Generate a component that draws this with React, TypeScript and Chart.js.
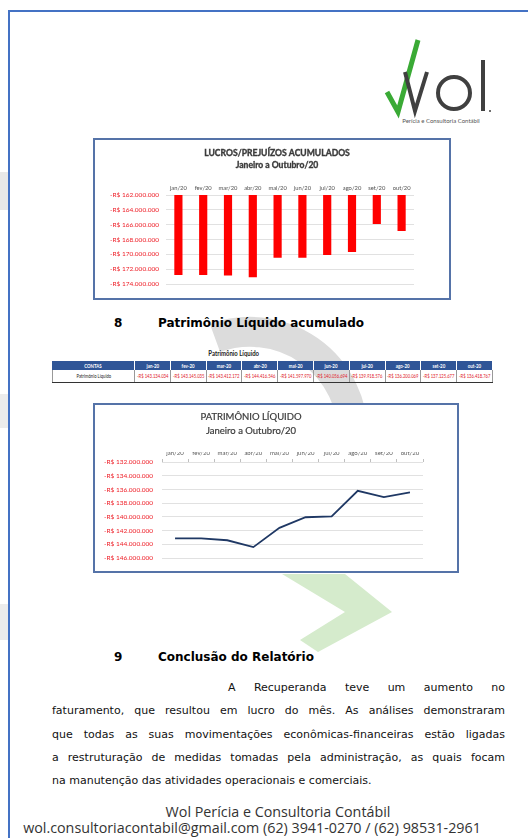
import React, { useEffect, useRef } from 'react';
import { Chart, registerables } from 'chart.js';
Chart.register(...registerables);

const months = ['jan/20', 'fev/20', 'mar/20', 'abr/20', 'mai/20', 'jun/20', 'jul/20', 'ago/20', 'set/20', 'out/20'];
const lucrosValues = [-172800000, -172800000, -172850000, -173100000, -170450000, -170450000, -170100000, -169700000, -165900000, -166850000];
const lucrosMin = -174000000;
const lucrosMax = -162000000;
const lucrosTitle = ['LUCROS/PREJUÍZOS ACUMULADOS', 'Janeiro a Outubro/20'];
const plValues = [-143134034, -143145035, -143412172, -144416546, -141597970, -140056694, -139918576, -136200069, -137125677, -136418767];
const plMin = -146000000;
const plMax = -132000000;
const plTitle = ['PATRIMÔNIO LÍQUIDO', 'Janeiro a Outubro/20'];
const tickStep = 2000000;
const tableMonths = ['jan-20', 'fev-20', 'mar-20', 'abr-20', 'mai-20', 'jun-20', 'jul-20', 'ago-20', 'set-20', 'out-20'];
const paragraphLines = [
  'A Recuperanda teve um aumento no',
  'faturamento, que resultou em lucro do mês. As análises demonstraram',
  'que todas as suas movimentações econômicas-financeiras estão ligadas',
  'a restruturação de medidas tomadas pela administração, as quais focam',
  'na manutenção das atividades operacionais e comerciais.',
];

const fmt = (v: number) =>
  '-R$ ' + String(Math.abs(Math.round(v))).replace(/\B(?=(\d{3})+(?!\d))/g, '.');

// draws a two-line chart title at a given position (Excel-style title placement)
const docTitlePlugin = {
  id: 'docTitle',
  afterDraw(chart: any, _args: any, opts: any) {
    if (!opts || !opts.lines) return;
    const ctx = chart.ctx;
    ctx.save();
    ctx.font = `${opts.weight || 'normal'} ${opts.size}px ${opts.family}`;
    ctx.fillStyle = opts.color;
    ctx.strokeStyle = opts.color;
    ctx.lineWidth = opts.stroke || 0;
    ctx.textAlign = 'center';
    ctx.textBaseline = 'middle';
    opts.lines.forEach((l: string, i: number) => {
      ctx.fillText(l, opts.x, opts.y + i * opts.lh);
      if (opts.stroke) ctx.strokeText(l, opts.x, opts.y + i * opts.lh);
    });
    ctx.restore();
  },
};

function ChartCanvas({ config, width, height }: { config: any; width: number; height: number }) {
  const ref = useRef<HTMLCanvasElement | null>(null);
  useEffect(() => {
    if (!ref.current) return;
    const c = new Chart(ref.current, { ...config, plugins: [docTitlePlugin] });
    return () => c.destroy();
  }, []);
  return <canvas ref={ref} width={width} height={height} style={{ display: 'block', width, height }} />;
}

const barConfig = {
  type: 'bar',
  data: {
    labels: months,
    datasets: [{ data: lucrosValues, backgroundColor: '#ff0000', categoryPercentage: 1, barPercentage: 0.33 }],
  },
  options: {
    responsive: false,
    animation: false,
    layout: { padding: { top: 45, left: 14, right: 35, bottom: 14 } },
    plugins: {
      legend: { display: false },
      tooltip: { enabled: false },
      title: { display: false },
      docTitle: { lines: lucrosTitle, x: 182, y: 13, lh: 12, size: 8.6, family: 'Lato', weight: 'bold', color: '#3a3a3a', stroke: 0.35 },
    },
    scales: {
      x: {
        position: 'top',
        grid: { display: true, drawOnChartArea: false, drawTicks: false, color: 'rgba(0,0,0,0)' },
        border: { display: false },
        ticks: { display: true, color: '#505050', font: { family: 'Lato', size: 5.8 }, padding: 3, maxRotation: 0, minRotation: 0, autoSkip: false },
        afterFit: (s: any) => { s.height = 10; },
      },
      y: {
        min: lucrosMin,
        max: lucrosMax,
        grid: { color: '#d9d9d9', drawTicks: false, lineWidth: 0.8 },
        border: { display: false },
        ticks: { stepSize: tickStep, color: '#ee1c25', font: { family: 'Lato', size: 6.5 }, padding: 7, callback: (v: any) => fmt(v) },
        afterFit: (s: any) => { s.width = 57; },
      },
    },
  },
};

const lineConfig = {
  type: 'line',
  data: {
    labels: months,
    datasets: [{ data: plValues, borderColor: '#1f3864', borderWidth: 1.8, pointRadius: 0, tension: 0, fill: false }],
  },
  options: {
    responsive: false,
    animation: false,
    layout: { padding: { top: 47, left: 8, right: 34, bottom: 13 } },
    plugins: {
      legend: { display: false },
      tooltip: { enabled: false },
      title: { display: false },
      docTitle: { lines: plTitle, x: 156, y: 12, lh: 14, size: 9.5, family: 'Lato', weight: 'normal', color: '#3a3a3a', stroke: 0.2 },
    },
    scales: {
      x: {
        position: 'top',
        offset: true,
        grid: { display: true, drawOnChartArea: false, offset: true, tickLength: 3, color: '#bfbfbf' },
        border: { display: false },
        ticks: { color: '#595959', font: { family: 'Lato', size: 6 }, padding: 2, maxRotation: 0, autoSkip: false },
        afterFit: (s: any) => { s.height = 10; },
      },
      y: {
        min: plMin,
        max: plMax,
        grid: { color: '#d9d9d9', drawTicks: false, lineWidth: 0.8 },
        border: { display: false },
        ticks: { stepSize: tickStep, color: '#ee1c25', font: { family: 'Lato', size: 6.5 }, padding: 9, callback: (v: any) => fmt(v) },
        afterFit: (s: any) => { s.width = 59; },
      },
    },
  },
};

const abs = (l: number, t: number, extra: any = {}) => ({ position: 'absolute', left: l, top: t, ...extra } as React.CSSProperties);

const squeeze = (text: string, sx: number) => (
  <span style={{ display: 'inline-block', flexShrink: 0, whiteSpace: 'nowrap', transform: `scaleX(${sx})`, transformOrigin: 'center' }}>{text}</span>
);

export default function App() {
  const colW = (493 - 135) / 10;
  const cellBase: React.CSSProperties = { boxSizing: 'border-box', display: 'flex', justifyContent: 'center', alignItems: 'center', overflow: 'hidden', fontFamily: 'Lato' };
  return (
    <div style={{ position: 'absolute', left: 0, top: 0, width: 528, height: 838, overflow: 'hidden', background: '#fff', fontFamily: 'DejaVu Sans' }}>
      {/* left edge tabs */}
      <div style={abs(0, 172, { width: 8, height: 38, background: '#e8e8e8' })} />
      <div style={abs(0, 394, { width: 8, height: 34, background: '#ececec' })} />
      <div style={abs(0, 604, { width: 8, height: 36, background: '#ececec' })} />
      {/* page border */}
      <div style={abs(8, 10, { width: 528, height: 2, background: '#4472c4' })} />
      <div style={abs(8, 10, { width: 2, height: 838, background: '#4472c4' })} />

      {/* watermark */}
      <svg width={528} height={838} style={abs(0, 0)}>
        <path d="M 215 338 A 103 103 0 0 1 353 435" fill="none" stroke="#dcdcdc" strokeWidth={30} />
        <polygon points="282,574 345,574 392,612 318,652 300,640 345,612" fill="#d5ebcc" />
      </svg>

      {/* logo */}
      <svg width={130} height={100} style={abs(375, 32)}>
        <polyline points="12,60 23,80 43,8" fill="none" stroke="#3aaa35" strokeWidth={5} strokeLinejoin="miter" />
        <polyline points="30,40 40,79 52,40" fill="none" stroke="#404040" strokeWidth={4} />
        <circle cx={79} cy={61} r={16} fill="none" stroke="#404040" strokeWidth={4} />
        <line x1={108} y1={28} x2={108} y2={79} stroke="#404040" strokeWidth={4} />
        <circle cx={115} cy={79} r={1} fill="#404040" />
        <text x={66} y={91} textAnchor="middle" fontFamily="Lato" fontSize={6} fill="#555">Perícia e Consultoria Contábil</text>
      </svg>

      {/* chart 1 */}
      <div style={abs(93, 138, { border: '2px solid #5573a8', background: '#fff' })}>
        <ChartCanvas config={barConfig} width={354} height={158} />
      </div>

      {/* heading 8 */}
      <div style={abs(114, 315, { fontWeight: 'bold', fontSize: 12, lineHeight: '16px' })}>8</div>
      <div style={abs(158, 315, { fontWeight: 'bold', fontSize: 12, lineHeight: '16px' })}>Patrimônio Líquido acumulado</div>

      {/* table */}
      <div style={abs(198, 347, { width: 72, height: 12, ...cellBase, fontWeight: 'bold', fontSize: 7.5, color: '#222' })}>{squeeze('Patrimônio Líquido', 0.8)}</div>
      <div style={abs(52, 361, { width: 441, height: 9, display: 'flex', background: '#2f5597' })}>
        {['CONTAS', ...tableMonths].map((h, i) => (
          <div key={h} style={{ ...cellBase, width: i === 0 ? 83 : colW, height: 9, borderRight: '1px solid #fff', color: '#fff', fontWeight: 'bold', fontSize: 5.5 }}>{squeeze(h, 0.8)}</div>
        ))}
      </div>
      <div style={abs(52, 370, { width: 441, height: 13, display: 'flex', borderBottom: '1.5px solid #333', boxSizing: 'border-box' })}>
        {['Patrimônio Líquido', ...plValues.map(fmt)].map((h, i) => (
          <div key={i} style={{ ...cellBase, width: i === 0 ? 83 : colW, height: 12, borderRight: '1px solid #999', borderLeft: i === 0 ? '1px solid #999' : 'none', color: i === 0 ? '#222' : '#e0202a', fontSize: 5.5 }}>{squeeze(h, 0.76)}</div>
        ))}
      </div>

      {/* chart 2 */}
      <div style={abs(93, 403, { border: '2px solid #5573a8', background: '#fff' })}>
        <ChartCanvas config={lineConfig} width={362} height={166} />
      </div>

      {/* heading 9 */}
      <div style={abs(114, 649, { fontWeight: 'bold', fontSize: 12, lineHeight: '16px' })}>9</div>
      <div style={abs(158, 649, { fontWeight: 'bold', fontSize: 12, lineHeight: '16px' })}>Conclusão do Relatório</div>

      {/* paragraph */}
      <div style={abs(52, 676, { width: 453, fontSize: 11, lineHeight: '23.3px', color: '#111' })}>
        {paragraphLines.map((l, i) => (
          <div key={i} style={{ textAlign: i === paragraphLines.length - 1 ? 'left' : 'justify', textAlignLast: i === paragraphLines.length - 1 ? 'left' : 'justify', paddingLeft: i === 0 ? 176 : 0 } as React.CSSProperties}>{l}</div>
        ))}
      </div>

      {/* footer */}
      <div style={abs(0, 803, { width: 556, textAlign: 'center', fontFamily: 'Open Sans', fontSize: 14.3, lineHeight: '17px', color: '#333' })}>Wol Perícia e Consultoria Contábil</div>
      <div style={abs(0, 819, { width: 504, textAlign: 'center', fontFamily: 'Open Sans', fontSize: 14.3, lineHeight: '17px', color: '#333', whiteSpace: 'nowrap' })}>wol.consultoriacontabil@gmail.com (62) 3941-0270 / (62) 98531-2961</div>
    </div>
  );
}
